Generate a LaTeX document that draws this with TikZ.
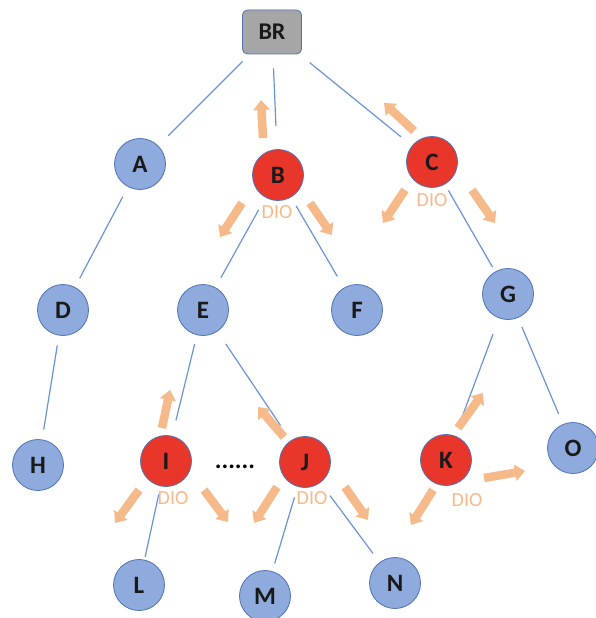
\documentclass[tikz,border=0pt]{standalone}
\usepackage{fontspec}
\setmainfont{Carlito}
\usetikzlibrary{arrows.meta}

\definecolor{nodeblue}{HTML}{8FAADC}
\definecolor{nodeedge}{HTML}{4F73B5}
\definecolor{nodered}{HTML}{E8372A}
\definecolor{rootgray}{HTML}{A6A6A6}
\definecolor{linkblue}{HTML}{6A93D6}
\definecolor{pushorange}{HTML}{F5B98A}

\begin{document}
\begin{tikzpicture}[x=1pt,y=-1pt,
  tnode/.style={circle, draw=nodeedge, line width=0.8pt, minimum size=51pt,
    inner sep=0pt, font=\fontsize{25}{25}\selectfont\bfseries, text=black!90},
  bnode/.style={tnode, fill=nodeblue},
  rnode/.style={tnode, fill=nodered},
  root/.style={rectangle, rounded corners=5pt, draw=nodeedge, line width=0.8pt,
    fill=rootgray, minimum width=59pt, minimum height=44pt, inner sep=0pt,
    font=\fontsize{24}{24}\selectfont\bfseries, text=black!90},
  link/.style={draw=linkblue, line width=1.2pt},
  push/.style={draw=pushorange, line width=8.5pt,
    -{Triangle[width=16pt,length=10pt]}},
  dio/.style={text=pushorange, font=\fontsize{20}{20}\selectfont, inner sep=0pt}]

\useasboundingbox (0,0) rectangle (595,618);

% tree nodes
\node[root]  (BR) at (272,32)  {BR};
\node[bnode] (A)  at (140,164) {A};
\node[rnode] (B)  at (278,175) {B};
\node[rnode] (C)  at (432,162) {C};
\node[bnode] (D)  at (63,310)  {D};
\node[bnode] (E)  at (203,310) {E};
\node[bnode] (F)  at (357,310) {F};
\node[bnode] (G)  at (508,294) {G};
\node[bnode] (H)  at (38,465)  {H};
\node[rnode] (I)  at (166,461) {I};
\node[rnode] (J)  at (305,462) {J};
\node[rnode] (K)  at (446,460) {K};
\node[bnode] (O)  at (573,448) {O};
\node[bnode] (L)  at (139,585) {L};
\node[bnode] (M)  at (265,596) {M};
\node[bnode] (N)  at (395,583) {N};
\node[font=\fontsize{25}{25}\selectfont\bfseries, inner sep=0pt] (dots) at (235,467) {......};

% tree edges
\draw[link, shorten <=10pt, shorten >=14pt] (BR) -- (A);
\draw[link, shorten <=14pt, shorten >=23pt] (BR) -- (B);
\draw[link, shorten <=13pt, shorten >=14pt] (BR) -- (C);
\draw[link, shorten <=11pt, shorten >=10pt] (A) -- (D);
\draw[link, shorten <=10pt, shorten >=10pt] (D) -- (H);
\draw[link, shorten <=14pt, shorten >=11pt] (B) -- (E);
\draw[link, shorten <=10pt, shorten >=13pt] (B) -- (F);
\draw[link, shorten <=7pt,  shorten >=5pt]  (C) -- (G);
\draw[link, shorten <=9pt,  shorten >=16pt] (E) -- (I);
\draw[link, shorten <=15pt, shorten >=18pt] (E) -- (J);
\draw[link, shorten <=17pt, shorten >=15pt] (G) -- (K);
\draw[link, shorten <=10pt, shorten >=11pt] (G) -- (O);
\draw[link, shorten <=8pt,  shorten >=3pt]  (I) -- (L);
\draw[link, shorten <=11pt, shorten >=8pt]  (J) -- (M);
\draw[link, shorten <=16pt, shorten >=11pt] (J) -- (N);

% propagation arrows around the DIO nodes
\draw[push] ([shift={(-15,-37)}]B.center) -- ++(-2,-38);
\draw[push] ([shift={(-36,28)}]B.center) -- ++(-22,34);
\draw[push] ([shift={(32,28)}]B.center) -- ++(22,32);

\draw[push] ([shift={(-18,-31)}]C.center) -- ++(-30,-28);
\draw[push] ([shift={(-27,28)}]C.center) -- ++(-22,33);
\draw[push] ([shift={(40,28)}]C.center) -- ++(23,33);

\draw[push] ([shift={(-4,-33)}]I.center) -- ++(8,-38);
\draw[push] ([shift={(-27,29)}]I.center) -- ++(-24,33);
\draw[push] ([shift={(38,29)}]I.center) -- ++(24,32);

\draw[push] ([shift={(-21,-25)}]J.center) -- ++(-26,-30);
\draw[push] ([shift={(-28,25)}]J.center) -- ++(-23,36);
\draw[push] ([shift={(40,25)}]J.center) -- ++(23,33);

\draw[push] ([shift={(12,-32)}]K.center) -- ++(25,-35);
\draw[push] ([shift={(38,18)}]K.center) -- ++(41,-7);
\draw[push] ([shift={(-13,30)}]K.center) -- ++(-22,35);

% DIO labels
\node[dio] (dioB) at ([shift={(-1,37)}]B.center) {DIO};
\node[dio] (dioC) at ([shift={(0,38)}]C.center)  {DIO};
\node[dio] (dioI) at ([shift={(7,37)}]I.center)  {DIO};
\node[dio] (dioJ) at ([shift={(7,36)}]J.center)  {DIO};
\node[dio] (dioK) at ([shift={(21,40)}]K.center) {DIO};
\end{tikzpicture}
\end{document}
